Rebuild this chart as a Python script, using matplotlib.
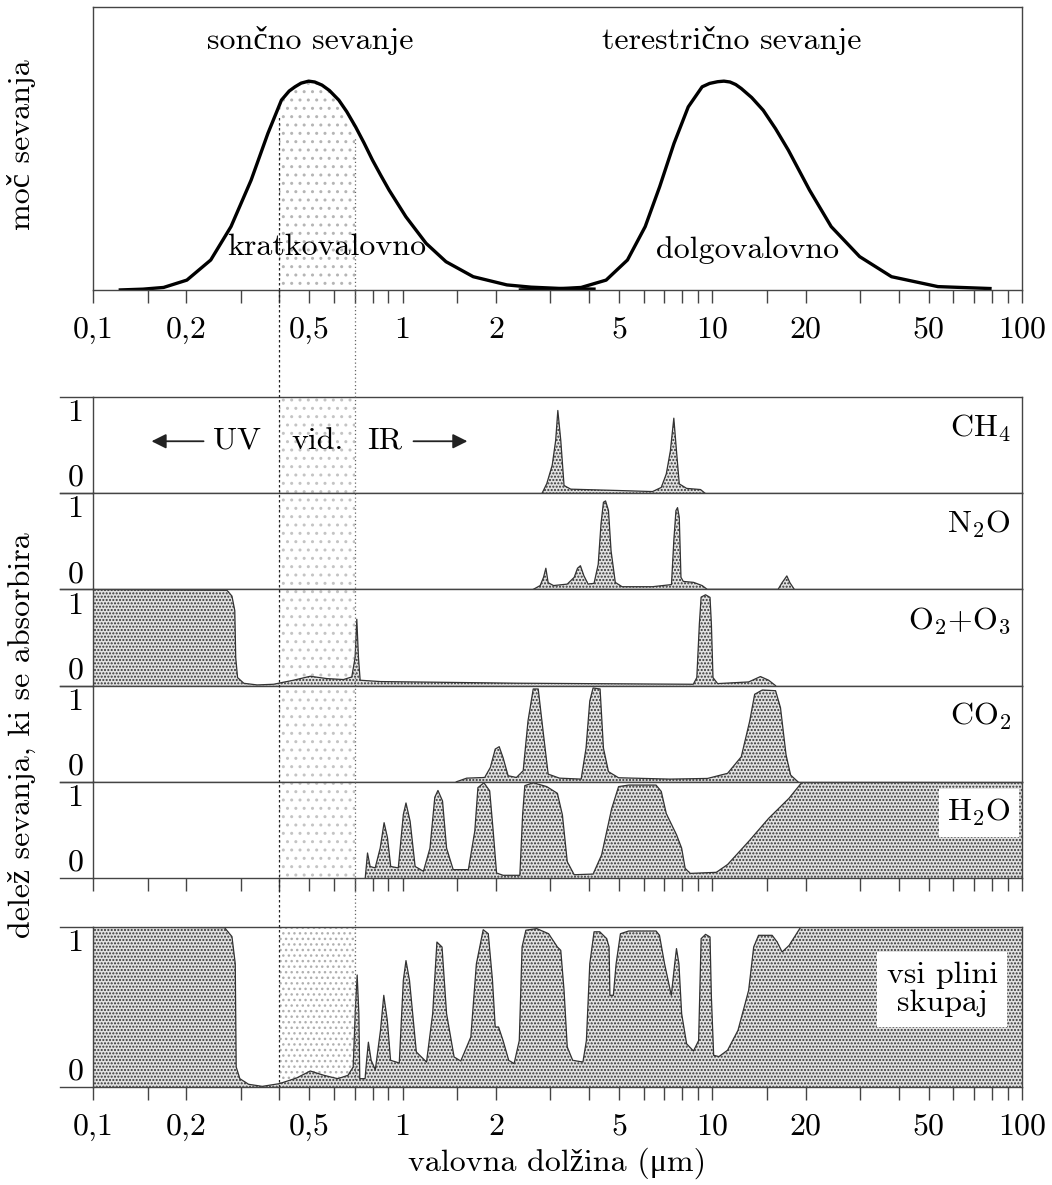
import numpy as np
import matplotlib
matplotlib.use("Agg")
import matplotlib.pyplot as plt
from matplotlib.ticker import FixedLocator, NullFormatter

plt.rcParams['font.family'] = ['cmr10', 'Liberation Serif']
plt.rcParams['mathtext.fontset'] = 'cm'
plt.rcParams['axes.unicode_minus'] = False
plt.rcParams['hatch.linewidth'] = 1.0

# --- data ---
sun_wl = [0.121, 0.145, 0.169, 0.201, 0.240, 0.279, 0.324, 0.367, 0.406, 0.43, 0.449, 0.47, 0.497, 0.52,
          0.549, 0.58, 0.622, 0.66, 0.705, 0.75, 0.799, 0.85, 0.904, 1.024, 1.19, 1.38, 1.69, 2.17,
          2.6, 3.3, 4.2]
sun_pw = [0.0, 0.003, 0.009, 0.035, 0.106, 0.224, 0.388, 0.553, 0.671, 0.703, 0.718, 0.731, 0.738, 0.735,
          0.724, 0.705, 0.671, 0.63, 0.576, 0.52, 0.459, 0.405, 0.353, 0.259, 0.165, 0.100, 0.047, 0.018,
          0.010, 0.005, 0.003]

terr_wl = [2.37, 3.0, 3.77, 4.54, 5.32, 6.07, 6.76, 7.52, 8.36, 9.27, 9.8, 10.4, 10.9, 11.4, 11.9, 12.4,
           13.4, 14.6, 16.0, 17.6, 20.6, 24.2, 29.9, 37.9, 53.5, 79.8]
terr_pw = [0.0, 0.003, 0.009, 0.035, 0.106, 0.224, 0.365, 0.518, 0.647, 0.718, 0.730, 0.736, 0.738, 0.735,
           0.726, 0.712, 0.68, 0.635, 0.57, 0.494, 0.353, 0.224, 0.118, 0.047, 0.012, 0.005]

ch4_wl = [2.82, 2.92, 3.04, 3.12, 3.17, 3.24, 3.32, 3.49, 4.98, 6.41, 6.84, 7.10, 7.32, 7.51,
          7.66, 7.82, 8.26, 9.16, 9.47]
ch4_ab = [0.0, 0.10, 0.29, 0.55, 0.86, 0.55, 0.08, 0.042, 0.028, 0.017, 0.06, 0.20, 0.44, 0.78,
          0.44, 0.097, 0.05, 0.038, 0.0]

n2o_wl = [2.64, 2.78, 2.85, 2.90, 2.95, 3.07, 3.40, 3.58, 3.67, 3.75, 3.85, 3.97, 4.15, 4.28,
          4.37, 4.45, 4.52, 4.62, 4.71, 4.86, 5.11, 6.41, 7.38, 7.51, 7.63, 7.72, 7.82, 7.92,
          8.06, 8.70, 9.27, 9.63, 16.3, 16.8, 17.4, 17.8, 18.4]
n2o_ab = [0.0, 0.04, 0.125, 0.22, 0.07, 0.04, 0.055, 0.125, 0.22, 0.246, 0.14, 0.056, 0.063, 0.26,
          0.68, 0.906, 0.92, 0.82, 0.40, 0.073, 0.028, 0.028, 0.05, 0.51, 0.82, 0.85, 0.75, 0.125,
          0.083, 0.073, 0.04, 0.0, 0.0, 0.07, 0.14, 0.07, 0.0]

o3_wl = [0.1, 0.271, 0.281, 0.287, 0.289, 0.293, 0.307, 0.339, 0.383, 0.444, 0.503, 0.569, 0.644,
         0.685, 0.702, 0.711, 0.720, 0.729, 0.846, 2.33, 8.68, 8.91, 9.08, 9.20, 9.51, 9.83, 9.93,
         10.05, 10.4, 13.1, 14.3, 15.2, 16.0]
o3_ab = [1.0, 0.99, 0.93, 0.78, 0.29, 0.083, 0.024, 0.007, 0.014, 0.056, 0.097, 0.073, 0.063,
         0.09, 0.29, 0.69, 0.29, 0.056, 0.042, 0.025, 0.014, 0.083, 0.64, 0.92, 0.944, 0.917, 0.64,
         0.083, 0.021, 0.038, 0.094, 0.056, 0.0]

co2_wl = [1.49, 1.61, 1.84, 1.92, 1.99, 2.05, 2.11, 2.19, 2.33, 2.45, 2.54, 2.64, 2.74, 2.84, 2.95,
          3.21, 3.77, 3.91, 4.02, 4.12, 4.34, 4.45, 4.62, 4.98, 7.29, 9.65, 11.2, 12.4, 13.2, 13.7,
          14.5, 16.0, 16.6, 17.3, 17.9, 18.9]
co2_ab = [0.0, 0.038, 0.045, 0.15, 0.34, 0.365, 0.25, 0.063, 0.045, 0.115, 0.635, 0.965, 0.965, 0.53,
          0.08, 0.038, 0.028, 0.35, 0.84, 0.975, 0.965, 0.35, 0.105, 0.042, 0.028, 0.035, 0.088,
          0.26, 0.63, 0.91, 0.954, 0.947, 0.77, 0.28, 0.07, 0.0]

h2o_wl = [0.757, 0.77, 0.785, 0.815, 0.846, 0.871, 0.893, 0.915, 0.968, 1.005, 1.025, 1.057, 1.097,
          1.167, 1.225, 1.27, 1.30, 1.345, 1.386, 1.456, 1.63, 1.71, 1.75, 1.83, 1.91, 1.96, 2.01,
          2.11, 2.39, 2.44, 2.48, 2.64, 2.92, 3.16, 3.28, 3.40, 3.58, 4.12, 4.39, 4.73, 4.98, 5.37,
          6.58, 6.84, 7.10, 7.66, 7.96, 8.17, 8.49, 10.3, 11.2, 13.1, 15.2, 17.7, 19.3, 19.8, 100]
h2o_ab = [0.0, 0.26, 0.12, 0.105, 0.31, 0.575, 0.42, 0.12, 0.105, 0.66, 0.78, 0.59, 0.12,
          0.07, 0.31, 0.84, 0.91, 0.80, 0.31, 0.087, 0.087, 0.49, 0.94, 0.99, 0.906, 0.49, 0.052,
          0.028, 0.028, 0.66, 0.96, 0.99, 0.95, 0.88, 0.655, 0.17, 0.034, 0.041, 0.24, 0.72, 0.95, 0.966,
          0.966, 0.90, 0.67, 0.45, 0.31, 0.10, 0.048, 0.059, 0.14, 0.38, 0.62, 0.83, 0.98, 1.0, 1.0]

all_wl = [0.1, 0.266, 0.281, 0.288, 0.290, 0.298, 0.318, 0.352, 0.400, 0.454, 0.503, 0.557, 0.617,
          0.666, 0.692, 0.704, 0.713, 0.722, 0.727, 0.756, 0.765, 0.775, 0.791, 0.816, 0.848, 0.869,
          0.892, 0.914, 0.975, 1.005, 1.025, 1.052, 1.107, 1.194, 1.25, 1.29, 1.34, 1.386, 1.466,
          1.54, 1.66, 1.73, 1.82, 1.89, 1.95, 1.99, 2.04, 2.11, 2.20, 2.29, 2.38, 2.43, 2.50, 2.71,
          2.96, 3.16, 3.24, 3.32, 3.40, 3.54, 3.82, 3.92, 4.02, 4.15, 4.33, 4.56, 4.64, 4.67, 4.79,
          4.89, 5.05, 5.37, 6.58, 6.75, 7.01, 7.37, 7.56, 7.66, 7.80, 7.96, 8.26, 8.69, 9.03, 9.20,
          9.51, 9.83, 9.93, 10.1, 10.5, 11.2, 12.1, 13.1, 13.6, 14.1, 15.6, 16.2, 16.8, 17.7, 19.3, 100]
all_ab = [1.0, 0.996, 0.94, 0.77, 0.125, 0.052, 0.017, 0.004, 0.021, 0.056, 0.10, 0.073, 0.052,
          0.073, 0.125, 0.5, 0.70, 0.46, 0.052, 0.052, 0.167, 0.28, 0.167, 0.108, 0.354, 0.573,
          0.417, 0.167, 0.15, 0.667, 0.79, 0.667, 0.219, 0.156, 0.458, 0.906, 0.875, 0.458, 0.1875,
          0.1625, 0.3125, 0.77, 0.983, 0.958, 0.667, 0.375, 0.375, 0.29, 0.167, 0.146, 0.29, 0.875,
          0.98, 0.99, 0.958, 0.875, 0.854, 0.604, 0.25, 0.167, 0.156, 0.29, 0.77, 0.97, 0.97, 0.927,
          0.875, 0.573, 0.573, 0.77, 0.958, 0.975, 0.975, 0.948, 0.77, 0.573, 0.77, 0.865, 0.77,
          0.458, 0.27, 0.225, 0.29, 0.927, 0.954, 0.9375, 0.5625, 0.198, 0.19, 0.23, 0.354, 0.604,
          0.875, 0.948, 0.948, 0.906, 0.844, 0.885, 1.0, 1.0]

gases = [
    (ch4_wl, ch4_ab, r'CH$_4$'),
    (n2o_wl, n2o_ab, r'N$_2$O'),
    (o3_wl, o3_ab, r'O$_2$+O$_3$'),
    (co2_wl, co2_ab, r'CO$_2$'),
    (h2o_wl, h2o_ab, r'H$_2$O'),
]

major_ticks = [0.1, 0.2, 0.5, 1, 2, 5, 10, 20, 50, 100]
major_labels = ['0,1', '0,2', '0,5', '1', '2', '5', '10', '20', '50', '100']
minor_ticks = [0.15, 0.3, 0.4, 0.6, 0.7, 0.8, 0.9, 1.5, 3, 4, 6, 7, 8, 9, 15, 30, 40, 60, 70, 80, 90]
vis_lo, vis_hi = 0.4, 0.7

# --- layout ---
W, H = 1052, 1185
FS = 23
frame = '#444444'
fillface = '#e2e2e2'
fillhatch = '#333333'
fill_pattern = '.....'


def rect(x0, y0, x1, y1):
    return [x0 / W, 1 - y1 / H, (x1 - x0) / W, (y1 - y0) / H]


def style_axis(ax, ticks=True, labels=True):
    ax.set_xscale('log')
    ax.set_xlim(0.1, 100)
    ax.set_ylim(0, 1)
    ax.set_yticks([])
    for s in ax.spines.values():
        s.set_color(frame)
        s.set_linewidth(1.0)
    if ticks:
        ax.xaxis.set_major_locator(FixedLocator(major_ticks))
        ax.xaxis.set_minor_locator(FixedLocator(minor_ticks))
        ax.xaxis.set_minor_formatter(NullFormatter())
        ax.tick_params(axis='x', which='both', direction='out', length=9, width=1.0,
                       color=frame, pad=10, labelsize=FS)
        if labels:
            ax.set_xticklabels(major_labels)
        else:
            ax.set_xticklabels([])
    else:
        ax.set_xticks([])
        ax.set_xticks([], minor=True)


def side_marks(ax):
    for yy in (0, 1):
        ax.plot([-0.036, 0], [yy, yy], transform=ax.transAxes, clip_on=False,
                color=frame, lw=1.0)
    ax.annotate('1', xy=(-0.019, 1), xycoords='axes fraction', xytext=(0, -2),
                textcoords='offset points', ha='center', va='top', fontsize=FS)
    ax.annotate('0', xy=(-0.019, 0), xycoords='axes fraction', xytext=(0, 1),
                textcoords='offset points', ha='center', va='bottom', fontsize=FS)


fig = plt.figure(figsize=(W / 100, H / 100), dpi=100)

# top panel: emitted radiation
ax0 = fig.add_axes(rect(93, 7, 1022, 290))
style_axis(ax0)
ax0.plot(sun_wl, sun_pw, color='black', lw=2.4, solid_capstyle='butt')
ax0.plot(terr_wl, terr_pw, color='black', lw=2.4, solid_capstyle='butt')
span0 = ax0.axvspan(vis_lo, vis_hi, facecolor='none', lw=0)
dots0 = ax0.fill_between(sun_wl, sun_pw, 0, facecolor='none', edgecolor='#b5b5b5',
                         hatch='..', lw=0, zorder=0.5)
dots0.set_clip_path(span0)
for xv, ls, col in ((vis_lo, (0, (2, 2)), '#222222'), (vis_hi, (0, (1, 2)), '#666666')):
    top = np.interp(np.log10(xv), np.log10(sun_wl), sun_pw) - 0.04
    ax0.plot([xv, xv], [0, top], ls=ls, color=col, lw=0.9)
ax0.text(0.2336, 0.883, 'sončno sevanje', transform=ax0.transAxes, ha='center', va='center', fontsize=FS)
ax0.text(0.688, 0.883, 'terestrično sevanje', transform=ax0.transAxes, ha='center', va='center', fontsize=FS)
ax0.text(0.252, 0.152, 'kratkovalovno', transform=ax0.transAxes, ha='center', va='center', fontsize=FS)
ax0.text(0.705, 0.141, 'dolgovalovno', transform=ax0.transAxes, ha='center', va='center', fontsize=FS)

# middle panels: each gas
panel_h = (878 - 397) / 5
for i, (wl, ab, name) in enumerate(gases):
    top = 397 + panel_h * i
    ax = fig.add_axes(rect(93, top, 1022, top + panel_h))
    last = i == len(gases) - 1
    style_axis(ax, ticks=last, labels=False)
    ax.axvspan(vis_lo, vis_hi, facecolor='none', edgecolor='#c4c4c4', hatch='..', lw=0, zorder=0.5)
    ax.fill_between(wl, ab, 0, facecolor=fillface, edgecolor=fillhatch, hatch=fill_pattern, lw=0, zorder=1)
    ax.plot(wl, ab, color='#333333', lw=0.9, zorder=2)
    box = dict(facecolor='white', edgecolor='none', pad=6) if last else None
    ax.text(0.988, 0.68, name, transform=ax.transAxes, ha='right', va='center', fontsize=FS,
            bbox=box, zorder=3)
    side_marks(ax)
    if i == 0:
        ax.annotate('', xy=(0.060, 0.54), xytext=(0.122, 0.54), xycoords='axes fraction',
                    arrowprops=dict(arrowstyle='-|>', color='#222222', lw=1.3, mutation_scale=22))
        ax.annotate('', xy=(0.406, 0.54), xytext=(0.342, 0.54), xycoords='axes fraction',
                    arrowprops=dict(arrowstyle='-|>', color='#222222', lw=1.3, mutation_scale=22))
        ax.text(0.155, 0.54, 'UV', transform=ax.transAxes, ha='center', va='center', fontsize=FS)
        ax.text(0.242, 0.54, 'vid.', transform=ax.transAxes, ha='center', va='center', fontsize=FS)
        ax.text(0.314, 0.54, 'IR', transform=ax.transAxes, ha='center', va='center', fontsize=FS)

# bottom panel: all gases together
axb = fig.add_axes(rect(93, 927, 1022, 1087))
style_axis(axb)
axb.axvspan(vis_lo, vis_hi, facecolor='none', edgecolor='#b0b0b0', hatch='...', lw=0, zorder=0.5)
axb.fill_between(all_wl, all_ab, 0, facecolor=fillface, edgecolor=fillhatch, hatch=fill_pattern, lw=0, zorder=1)
axb.plot(all_wl, all_ab, color='#333333', lw=0.9, zorder=2)
axb.text(0.914, 0.61, 'vsi plini\nskupaj', transform=axb.transAxes, ha='center', va='center',
         fontsize=FS, linespacing=1.05, zorder=3,
         bbox=dict(facecolor='white', edgecolor='none', pad=7))
side_marks(axb)

# dotted lines marking the visible band, across all panels
ov = fig.add_axes(rect(93, 290, 1022, 1087), zorder=5)
ov.set_xscale('log')
ov.set_xlim(0.1, 100)
ov.set_ylim(0, 1)
ov.axis('off')
ov.patch.set_visible(False)
ov.axvline(vis_lo, ls=(0, (2, 2)), color='#222222', lw=0.9)
ov.axvline(vis_hi, ls=(0, (1, 2)), color='#666666', lw=0.9)

fig.text(22 / W, 1 - 145 / H, 'moč sevanja', rotation=90, ha='center', va='center', fontsize=FS)
fig.text(22 / W, 1 - 735 / H, 'delež sevanja, ki se absorbira', rotation=90, ha='center',
         va='center', fontsize=FS)
fig.text(557 / W, 1 - 1163 / H, 'valovna dolžina (\u03bcm)', ha='center', va='center', fontsize=FS)

fig.savefig('out.png', dpi=100)
